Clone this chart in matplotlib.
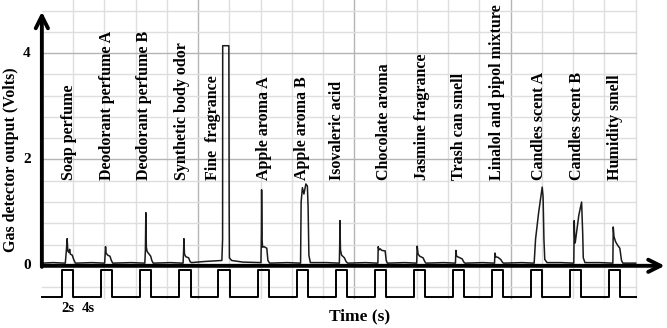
import numpy as np
import matplotlib
matplotlib.use('Agg')
import matplotlib.pyplot as plt

""" DATA """
odors = ['Soap perfume', 'Deodorant perfume A', 'Deodorant perfume B',
         'Synthetic body odor', 'Fine  fragrance', 'Apple aroma A',
         'Apple aroma B', 'Isovaleric acid', 'Chocolate aroma',
         'Jasmine fragrance', 'Trash can smell', 'Linalol and pipol mixture',
         'Candles scent A', 'Candles scent B', 'Humidity smell']

# valve opening times (s), each pulse lasts 2 s
pulse_start = [3.64, 10.64, 17.64, 24.64, 31.64, 38.64, 45.64, 52.64,
               59.64, 66.64, 73.64, 80.64, 87.64, 94.64, 101.64]
pulse_len = 2.0

# detector trace (time s, volts)
sig_t = [0.0, 2.0, 4.2, 4.4, 4.53, 4.65, 4.85, 4.98, 5.1, 5.45, 5.7, 6.0,
         9.0, 11.25, 11.35, 11.41, 11.5, 11.8, 12.2, 12.45, 12.7,
         16.0, 18.45, 18.55, 18.63, 18.72, 18.85, 19.2, 19.5, 19.7, 19.95,
         23.0, 25.3, 25.4, 25.45, 25.55, 25.8, 26.3, 26.55, 26.8,
         29.0, 32.25, 32.38, 32.4, 33.5, 33.56, 33.6, 34.0, 36.0,
         39.25, 39.33, 39.37, 39.45, 39.55, 39.8, 40.3, 40.5, 40.8,
         44.0, 46.35, 46.45, 46.68, 46.95, 47.3, 47.57, 47.7, 47.84, 48.1,
         51.0, 53.3, 53.36, 53.4, 53.5, 53.7, 54.2, 54.5, 54.8,
         58.0, 60.2, 60.26, 60.4, 60.6, 60.9, 61.5, 61.7, 61.9,
         65.0, 67.15, 67.25, 67.4, 67.7, 68.3, 68.6, 68.8,
         72.0, 74.1, 74.18, 74.3, 74.7, 75.3, 75.6, 75.8,
         79.0, 81.1, 81.17, 81.3, 81.7, 82.2, 82.5, 82.7,
         86.0, 88.2, 88.45, 89.0, 89.5, 89.64, 89.8, 89.95, 90.1, 90.5,
         93.0, 95.3, 95.35, 95.38, 95.45, 95.55, 96.2, 96.7, 96.9, 97.0, 97.3,
         100.0, 102.3, 102.37, 102.5, 102.8, 103.2, 103.55, 103.85, 104.1,
         106.4]
sig_v = [0.05, 0.06, 0.05, 0.30, 0.51, 0.28, 0.25, 0.31, 0.22, 0.20, 0.12, 0.05,
         0.06, 0.05, 0.25, 0.36, 0.24, 0.20, 0.18, 0.10, 0.05,
         0.06, 0.05, 0.30, 1.00, 0.35, 0.27, 0.22, 0.18, 0.10, 0.05,
         0.06, 0.05, 0.30, 0.51, 0.22, 0.17, 0.15, 0.08, 0.06,
         0.08, 0.10, 0.50, 4.14, 4.14, 1.00, 0.15, 0.10, 0.07,
         0.06, 0.60, 1.43, 0.50, 0.35, 0.36, 0.33, 0.10, 0.05,
         0.06, 0.05, 1.20, 1.47, 1.35, 1.54, 1.50, 1.10, 0.20, 0.06,
         0.06, 0.05, 0.40, 0.85, 0.30, 0.20, 0.15, 0.08, 0.05,
         0.06, 0.05, 0.36, 0.30, 0.32, 0.29, 0.28, 0.10, 0.05,
         0.06, 0.05, 0.37, 0.22, 0.18, 0.15, 0.08, 0.05,
         0.06, 0.05, 0.29, 0.18, 0.16, 0.13, 0.07, 0.05,
         0.06, 0.05, 0.24, 0.17, 0.16, 0.12, 0.07, 0.05,
         0.06, 0.05, 0.50, 1.00, 1.38, 1.48, 1.30, 0.50, 0.12, 0.06,
         0.06, 0.05, 0.50, 0.85, 0.55, 0.43, 0.95, 1.20, 0.60, 0.15, 0.06,
         0.06, 0.05, 0.73, 0.55, 0.45, 0.38, 0.33, 0.10, 0.05,
         0.05]

yticks = [0, 2, 4]

""" STYLE """
SERIF = 'Liberation Serif'
label_shift = [0.3, 0.1, -0.3, -0.5, -2.0, 0.1, 0.0, -0.7, 0.6,
               0.4, 0.1, -0.1, 0.4, 0.3, 0.0]
wave_lo, wave_hi = -0.59, -0.075
t_end = 106.4

fig = plt.figure(figsize=(6.67, 3.28), dpi=100)
ax = fig.add_axes([0, 0, 1, 1])
ax.set_xlim(-7.5, 112.0)
ax.set_ylim(-1.17, 5.0)
ax.axis('off')

# grid
gx = np.arange(1, 20) * 5.6
for x in gx:
    major = abs(x / 28 - round(x / 28)) < 1e-6
    ax.plot([x, x], [-0.6, 5.0], color='#b4b4b4' if major else '#dedede',
            lw=1.0, zorder=0)
gy = np.arange(-1, 13) * 0.4
for y in gy:
    if abs(y) < 1e-6:
        continue
    major = abs(y / 2 - round(y / 2)) < 1e-6
    ax.plot([0, t_end], [y, y], color='#b4b4b4' if major else '#dedede',
            lw=1.0, zorder=0)

# square wave of the valve
wt, wv = [0.0], [wave_lo]
for s in pulse_start:
    wt += [s, s, s + pulse_len, s + pulse_len]
    wv += [wave_lo, wave_hi, wave_hi, wave_lo]
wt.append(t_end)
wv.append(wave_lo)
ax.plot(wt, wv, color='black', lw=1.4, zorder=2)

# detector signal
ax.plot(sig_t, sig_v, color='#1a1a1a', lw=1.1, zorder=3)

# axes with arrows
ax.annotate('', xy=(111.6, 0), xytext=(0, 0),
            arrowprops=dict(arrowstyle='->', lw=2.8, color='black',
                            mutation_scale=22, shrinkA=0, shrinkB=0), zorder=4)
ax.annotate('', xy=(0, 4.78), xytext=(0, -0.02),
            arrowprops=dict(arrowstyle='->', lw=2.8, color='black',
                            mutation_scale=22, shrinkA=0, shrinkB=0), zorder=4)

# labels for each odor
for s, name, dx in zip(pulse_start, odors, label_shift):
    ax.text(s + pulse_len / 2 + dx, 1.62, name, rotation=90, ha='center',
            va='bottom', family=SERIF, fontweight='bold', fontsize=11.5)

for v in yticks:
    ax.text(-2.7, v, str(v), ha='center', va='center', family=SERIF,
            fontweight='bold', fontsize=11)

ax.text(-5.6, 2.0, 'Gas detector output (Volts)', rotation=90, ha='center',
        va='center', family=SERIF, fontweight='bold', fontsize=11.5)
ax.text(57.0, -0.96, 'Time (s)', ha='center', va='center', family=SERIF,
        fontweight='bold', fontsize=12.5)
ax.text(4.66, -0.81, '2s', ha='center', va='center', family=SERIF,
        fontweight='bold', fontsize=10.5)
ax.text(8.4, -0.81, '4s', ha='center', va='center', family=SERIF,
        fontweight='bold', fontsize=10.5)

fig.savefig('out.png', dpi=100)
